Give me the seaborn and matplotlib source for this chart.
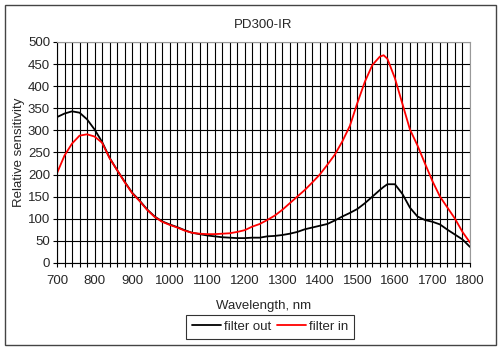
import matplotlib
matplotlib.use("Agg")
import matplotlib.pyplot as plt
import numpy as np
import pandas as pd
import seaborn as sns
from matplotlib.patches import Rectangle
from matplotlib.ticker import MultipleLocator

# ---- data ----
wavelength = [700, 720, 740, 760, 780, 800, 820, 840, 860, 880, 900, 920, 940, 960, 980,
              1000, 1020, 1040, 1060, 1080, 1100, 1120, 1140, 1160, 1180, 1200, 1220, 1240,
              1260, 1280, 1300, 1320, 1340, 1360, 1380, 1400, 1420, 1440, 1460, 1480, 1500,
              1520, 1540, 1560, 1570, 1580, 1600, 1620, 1640, 1660, 1680, 1700, 1720, 1740,
              1760, 1780, 1800]
filter_out = [330, 338, 343, 340, 325, 302, 274, 238, 210, 184, 159, 141, 121, 105, 94,
              87, 81, 74, 68, 65, 62, 60, 58, 57, 56, 56, 57, 57,
              60, 61, 63, 66, 70, 76, 80, 84, 88, 96, 105, 113, 122,
              135, 150, 165, 172, 178, 178, 156, 125, 105, 97, 93, 87, 75,
              64, 53, 36]
filter_in = [203, 243, 270, 288, 291, 286, 272, 237, 210, 183, 158, 140, 120, 104, 93,
             86, 80, 73, 68, 66, 65, 65, 66, 67, 70, 74, 82, 88,
             97, 107, 120, 135, 150, 165, 182, 200, 222, 245, 275, 310, 362,
             410, 448, 467, 470, 462, 418, 360, 302, 266, 225, 185, 150, 125,
             100, 70, 46]
series_names = ["filter out", "filter in"]
series_colors = ["black", "red"]

df = pd.DataFrame({
    "Wavelength": wavelength * 2,
    "Sensitivity": filter_out + filter_in,
    "Series": [series_names[0]] * len(wavelength) + [series_names[1]] * len(wavelength),
})

# ---- figure ----
sns.set_style("white")
plt.rcParams["font.family"] = ["Liberation Sans", "DejaVu Sans"]
fs = 9.5

fig = plt.figure(figsize=(5, 3.5), dpi=100)
ax = fig.add_axes([0.114, 0.249, 0.826, 0.631])

sns.lineplot(data=df, x="Wavelength", y="Sensitivity", hue="Series",
             palette=dict(zip(series_names, series_colors)), linewidth=1.3,
             ax=ax, legend=False)

ax.set_xlim(700, 1800)
ax.set_ylim(0, 500)
ax.xaxis.set_major_locator(MultipleLocator(100))
ax.xaxis.set_minor_locator(MultipleLocator(20))
ax.yaxis.set_major_locator(MultipleLocator(50))
ax.grid(which="both", axis="x", color="black", linewidth=0.8)
ax.grid(which="major", axis="y", color="black", linewidth=0.8)
ax.set_axisbelow(True)
ax.tick_params(axis="both", which="both", direction="out", labelsize=fs,
               length=3, width=0.8, color="black", pad=2, left=True, bottom=True)
ax.tick_params(axis="x", which="major", pad=6)

for side in ["top", "right"]:
    ax.spines[side].set_color("#999999")
for side in ["left", "bottom"]:
    ax.spines[side].set_color("black")
for s in ax.spines.values():
    s.set_linewidth(0.8)

ax.set_title("PD300-IR", fontsize=fs, pad=10)
ax.set_xlabel("Wavelength, nm", fontsize=fs, labelpad=9)
ax.set_ylabel("Relative sensitivity", fontsize=fs, labelpad=2)

handles = [plt.Line2D([], [], color=c, linewidth=1.3) for c in series_colors]
leg = fig.legend(handles, series_names, loc="center", bbox_to_anchor=(0.54, 0.066),
                 ncol=2, fontsize=fs, frameon=True, fancybox=False,
                 handlelength=2.2, handletextpad=0.25, columnspacing=0.4,
                 borderpad=0.45, borderaxespad=0)
leg.get_frame().set_edgecolor("black")
leg.get_frame().set_linewidth(0.8)

# outer chart frame
fig.patches.append(Rectangle((0.01, 0.014), 0.982, 0.972, transform=fig.transFigure,
                             fill=False, edgecolor="#444444", linewidth=1.0))

fig.savefig("out.png", dpi=100)
